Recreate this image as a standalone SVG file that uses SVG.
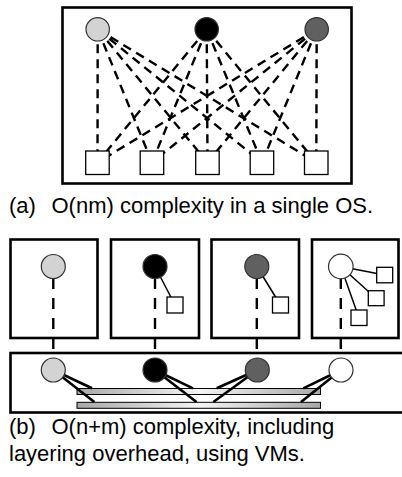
<svg xmlns="http://www.w3.org/2000/svg" width="402" height="477" viewBox="0 0 402 477">
<style>
.frame{fill:none;stroke:#000;stroke-width:2.6}
.dash{stroke:#000;stroke-width:2.4;stroke-dasharray:9 6;fill:none}
.dash2{stroke:#000;stroke-width:2.4;stroke-dasharray:11 9;fill:none}
.solid{stroke:#000;stroke-width:1.5;fill:none}
.thick{stroke:#000;stroke-width:2.6;fill:none}
.sq{fill:#fff;stroke:#000;stroke-width:1.3}
.circ{stroke:#333;stroke-width:1.2}
.bar{fill:url(#barg);stroke:#000;stroke-width:1}
.cap{font-family:"Liberation Sans",Arial,Helvetica,sans-serif;font-size:22px;fill:#000}
</style>
<defs>
<linearGradient id="barg" x1="0" y1="0" x2="1" y2="0">
<stop offset="0" stop-color="#a8a8a8"/>
<stop offset="0.5" stop-color="#f4f4f4"/>
<stop offset="1" stop-color="#a8a8a8"/>
</linearGradient>
</defs>
<rect x="0" y="0" width="402" height="477" fill="#fff"/>

<!-- (a) top frame -->
<rect id="osFrame" class="frame" x="62.5" y="7.5" width="289" height="176"/>

<g id="connectors">
  <!-- (a) circle 1 -->
  <line class="dash" x1="97.7" y1="29.3" x2="97.5" y2="162.5"/>
  <line class="dash" x1="97.7" y1="29.3" x2="152" y2="162.5"/>
  <line class="dash" x1="97.7" y1="29.3" x2="207.5" y2="162.5"/>
  <line class="dash" x1="97.7" y1="29.3" x2="262" y2="162.5"/>
  <line class="dash" x1="97.7" y1="29.3" x2="316.3" y2="162.5"/>
  <!-- (a) circle 2 -->
  <line class="dash" x1="206.7" y1="29.3" x2="97.5" y2="162.5"/>
  <line class="dash" x1="206.7" y1="29.3" x2="152" y2="162.5"/>
  <line class="dash" x1="206.7" y1="29.3" x2="207.5" y2="162.5"/>
  <line class="dash" x1="206.7" y1="29.3" x2="262" y2="162.5"/>
  <line class="dash" x1="206.7" y1="29.3" x2="316.3" y2="162.5"/>
  <!-- (a) circle 3 -->
  <line class="dash" x1="316.7" y1="29.3" x2="97.5" y2="162.5"/>
  <line class="dash" x1="316.7" y1="29.3" x2="152" y2="162.5"/>
  <line class="dash" x1="316.7" y1="29.3" x2="207.5" y2="162.5"/>
  <line class="dash" x1="316.7" y1="29.3" x2="262" y2="162.5"/>
  <line class="dash" x1="316.7" y1="29.3" x2="316.3" y2="162.5"/>

  <!-- (b) VM to VMM dashed -->
  <line class="dash2" x1="53.3" y1="278" x2="53.3" y2="370"/>
  <line class="dash2" x1="155" y1="278" x2="155" y2="370"/>
  <line class="dash2" x1="256.8" y1="278" x2="256.8" y2="370"/>
  <line class="dash2" x1="340.8" y1="278" x2="340.8" y2="370"/>

  <!-- (b) in-VM solid links -->
  <line class="solid" x1="155" y1="266.5" x2="175" y2="305"/>
  <line class="solid" x1="256.8" y1="266.5" x2="280.5" y2="305"/>
  <line class="solid" x1="340.8" y1="266.5" x2="384.7" y2="275"/>
  <line class="solid" x1="340.8" y1="266.5" x2="376.2" y2="298.5"/>
  <line class="solid" x1="340.8" y1="266.5" x2="359" y2="318"/>
</g>

<g id="appSquares">
  <rect id="app1" class="sq" x="85.7" y="151" width="23.5" height="23.5"/>
  <rect id="app2" class="sq" x="140.2" y="151" width="23.5" height="23.5"/>
  <rect id="app3" class="sq" x="195.7" y="151" width="23.5" height="23.5"/>
  <rect id="app4" class="sq" x="250.2" y="151" width="23.5" height="23.5"/>
  <rect id="app5" class="sq" x="304.5" y="151" width="23.5" height="23.5"/>
</g>
<g id="resourcesA">
  <circle id="resA1" class="circ" cx="97.7" cy="29.3" r="11.7" fill="#d3d3d3"/>
  <circle id="resA2" class="circ" cx="206.7" cy="29.3" r="11.7" fill="#000"/>
  <circle id="resA3" class="circ" cx="316.7" cy="29.3" r="11.7" fill="#606060"/>
</g>

<!-- (b) VM boxes -->
<g id="vm1">
  <rect class="frame" x="10.5" y="239.5" width="87" height="98.5"/>
  <circle class="circ" cx="53.3" cy="266.5" r="12" fill="#d3d3d3"/>
</g>
<g id="vm2">
  <rect class="frame" x="111" y="239.5" width="88" height="98.5"/>
  <circle class="circ" cx="155" cy="266.5" r="12" fill="#000"/>
  <rect class="sq" x="167" y="297" width="16" height="16"/>
</g>
<g id="vm3">
  <rect class="frame" x="211.5" y="239.5" width="87.5" height="98.5"/>
  <circle class="circ" cx="256.8" cy="266.5" r="12" fill="#606060"/>
  <rect class="sq" x="272.5" y="297" width="16" height="16"/>
</g>
<g id="vm4">
  <rect class="frame" x="312" y="239.5" width="86.5" height="98.5"/>
  <circle class="circ" cx="340.8" cy="266.5" r="12.3" fill="#fff"/>
  <rect class="sq" x="376.7" y="267.3" width="16" height="15.5"/>
  <rect class="sq" x="368.3" y="290.7" width="15.8" height="15"/>
  <rect class="sq" x="351" y="310" width="16" height="15.5"/>
</g>

<!-- (b) VMM -->
<g id="vmm">
  <rect class="frame" x="10.5" y="353" width="400" height="59.5"/>
  <rect id="bar1" class="bar" x="77" y="388.5" width="243.5" height="6"/>
  <rect id="bar2" class="bar" x="77" y="402.3" width="243.5" height="6"/>
</g>
<g id="vmmLinks">
  <line class="thick" x1="53.3" y1="370" x2="92" y2="388.3"/>
  <line class="thick" x1="53.3" y1="370" x2="94.3" y2="402"/>
  <line class="thick" x1="155" y1="370" x2="193" y2="388.3"/>
  <line class="thick" x1="155" y1="370" x2="196.5" y2="402"/>
  <line class="thick" x1="257.3" y1="370" x2="216.7" y2="388.3"/>
  <line class="thick" x1="257.3" y1="370" x2="213.3" y2="402"/>
  <line class="thick" x1="341" y1="370" x2="303.3" y2="388.3"/>
  <line class="thick" x1="341" y1="370" x2="301" y2="402"/>
</g>
<g id="resourcesB">
  <circle class="circ" cx="53.3" cy="370" r="12" fill="#d3d3d3"/>
  <circle class="circ" cx="155" cy="370" r="12" fill="#000"/>
  <circle class="circ" cx="257.3" cy="370" r="12" fill="#606060"/>
  <circle class="circ" cx="341" cy="370" r="12" fill="#fff"/>
</g>

<g id="captions">
  <text class="cap" x="9" y="212.5">(a)<tspan x="51.5">O(nm) complexity in a single OS.</tspan></text>
  <text class="cap" x="9" y="434.3">(b)<tspan x="51.5">O(n+m) complexity, including</tspan></text>
  <text class="cap" x="9" y="460.5">layering overhead, using VMs.</text>
</g>
</svg>
